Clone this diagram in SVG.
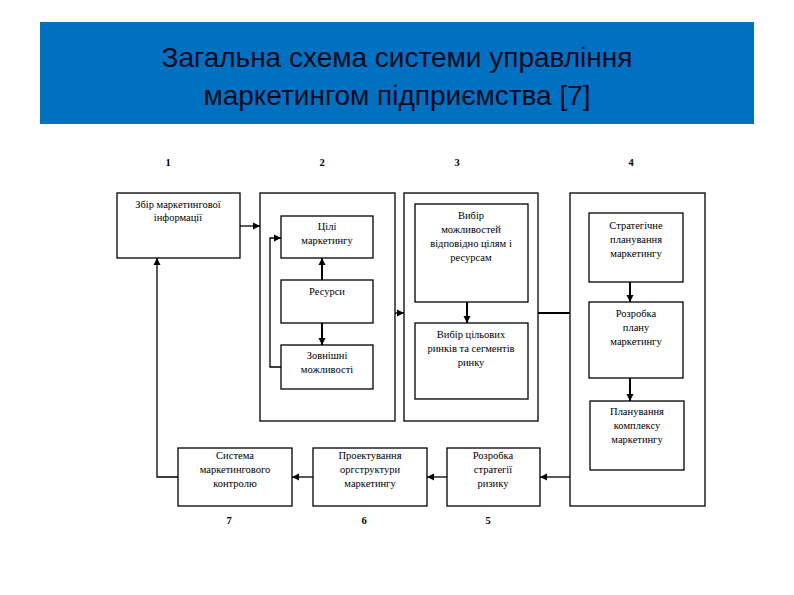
<svg xmlns="http://www.w3.org/2000/svg" width="794" height="595" viewBox="0 0 794 595">
<defs><marker id="a" markerWidth="8" markerHeight="8" refX="7" refY="4" orient="auto" markerUnits="userSpaceOnUse"><path d="M0,0.5 L7,4 L0,7.5 z" fill="#000"/></marker></defs>
<style>
rect.b{fill:#fff;stroke:#000;stroke-width:1.3}
text{font-family:"Liberation Serif",serif;font-size:10.5px;text-anchor:middle;fill:#000}
text.n{font-weight:bold}
.c path{fill:none;stroke:#000;stroke-width:1.3}
.c path.t{stroke-width:2}
</style>
<rect width="794" height="595" fill="#fff"/>
<g id="title"><rect x="40" y="22" width="714" height="102" fill="#0070c0"/>
<text x="397" y="67" style="font-family:'Liberation Sans',sans-serif;font-size:28px;fill:#0a0a1e">Загальна схема системи управління</text>
<text x="397" y="105" style="font-family:'Liberation Sans',sans-serif;font-size:28px;fill:#0a0a1e">маркетингом підприємства [7]</text></g>
<g id="nums"><text class="n" x="168" y="166">1</text><text class="n" x="322" y="166">2</text><text class="n" x="457" y="166">3</text><text class="n" x="631" y="166">4</text><text class="n" x="229" y="524">7</text><text class="n" x="364" y="524">6</text><text class="n" x="488" y="524">5</text></g>
<g id="g2"><rect class="b" x="260" y="193" width="135" height="228"/></g>
<g id="g3"><rect class="b" x="404" y="193" width="134" height="228"/></g>
<g id="g4"><rect class="b" x="570" y="193" width="135" height="313"/></g>
<g id="n1"><rect class="b" x="117" y="193" width="123" height="65"/><text x="178" y="208">Збір маркетингової</text><text x="178" y="221">інформації</text></g>
<g id="n2"><rect class="b" x="281" y="216" width="92" height="42"/><text x="327" y="230">Цілі</text><text x="327" y="244">маркетингу</text></g>
<g id="n3"><rect class="b" x="281" y="280" width="92" height="43"/><text x="327" y="295">Ресурси</text></g>
<g id="n4"><rect class="b" x="281" y="345" width="92" height="44"/><text x="327" y="359">Зовнішні</text><text x="327" y="373">можливості</text></g>
<g id="n5"><rect class="b" x="415" y="204" width="113" height="98"/><text x="471" y="219">Вибір</text><text x="471" y="233">можливостей</text><text x="471" y="247">відповідно цілям і</text><text x="471" y="261">ресурсам</text></g>
<g id="n6"><rect class="b" x="415" y="323" width="113" height="76"/><text x="471" y="338">Вибір цільових</text><text x="471" y="352">ринків та сегментів</text><text x="471" y="366">ринку</text></g>
<g id="n7"><rect class="b" x="589" y="213" width="94" height="69"/><text x="636" y="229">Стратегічне</text><text x="636" y="243">планування</text><text x="636" y="257">маркетингу</text></g>
<g id="n8"><rect class="b" x="589" y="302" width="94" height="76"/><text x="636" y="317">Розробка</text><text x="636" y="331">плану</text><text x="636" y="345">маркетингу</text></g>
<g id="n9"><rect class="b" x="590" y="401" width="94" height="69"/><text x="637" y="415">Планування</text><text x="637" y="429">комплексу</text><text x="637" y="443">маркетингу</text></g>
<g id="n10"><rect class="b" x="447" y="448" width="93" height="58"/><text x="493" y="459">Розробка</text><text x="493" y="473">стратегії</text><text x="493" y="487">ризику</text></g>
<g id="n11"><rect class="b" x="313" y="448" width="114" height="58"/><text x="370" y="459">Проектування</text><text x="370" y="473">оргструктури</text><text x="370" y="487">маркетингу</text></g>
<g id="n12"><rect class="b" x="178" y="448" width="114" height="58"/><text x="235" y="459">Система</text><text x="235" y="473">маркетингового</text><text x="235" y="487">контролю</text></g>
<g class="c" id="connectors">
<path d="M240,226 H260" marker-end="url(#a)"/>
<path d="M178,477 H157 V258" marker-end="url(#a)"/>
<path class="t" d="M322,280 V258" marker-end="url(#a)"/>
<path class="t" d="M322,323 V345" marker-end="url(#a)"/>
<path d="M281,367 H270 V238 H281" marker-end="url(#a)"/>
<path d="M395,313 H404" marker-end="url(#a)"/>
<path class="t" d="M467,302 V323" marker-end="url(#a)"/>
<path class="t" d="M538,313 H570"/>
<path class="t" d="M630,282 V302" marker-end="url(#a)"/>
<path class="t" d="M630,378 V401" marker-end="url(#a)"/>
<path d="M570,477 H540" marker-end="url(#a)"/>
<path d="M447,477 H427" marker-end="url(#a)"/>
<path d="M313,477 H292" marker-end="url(#a)"/>
</g>
</svg>
